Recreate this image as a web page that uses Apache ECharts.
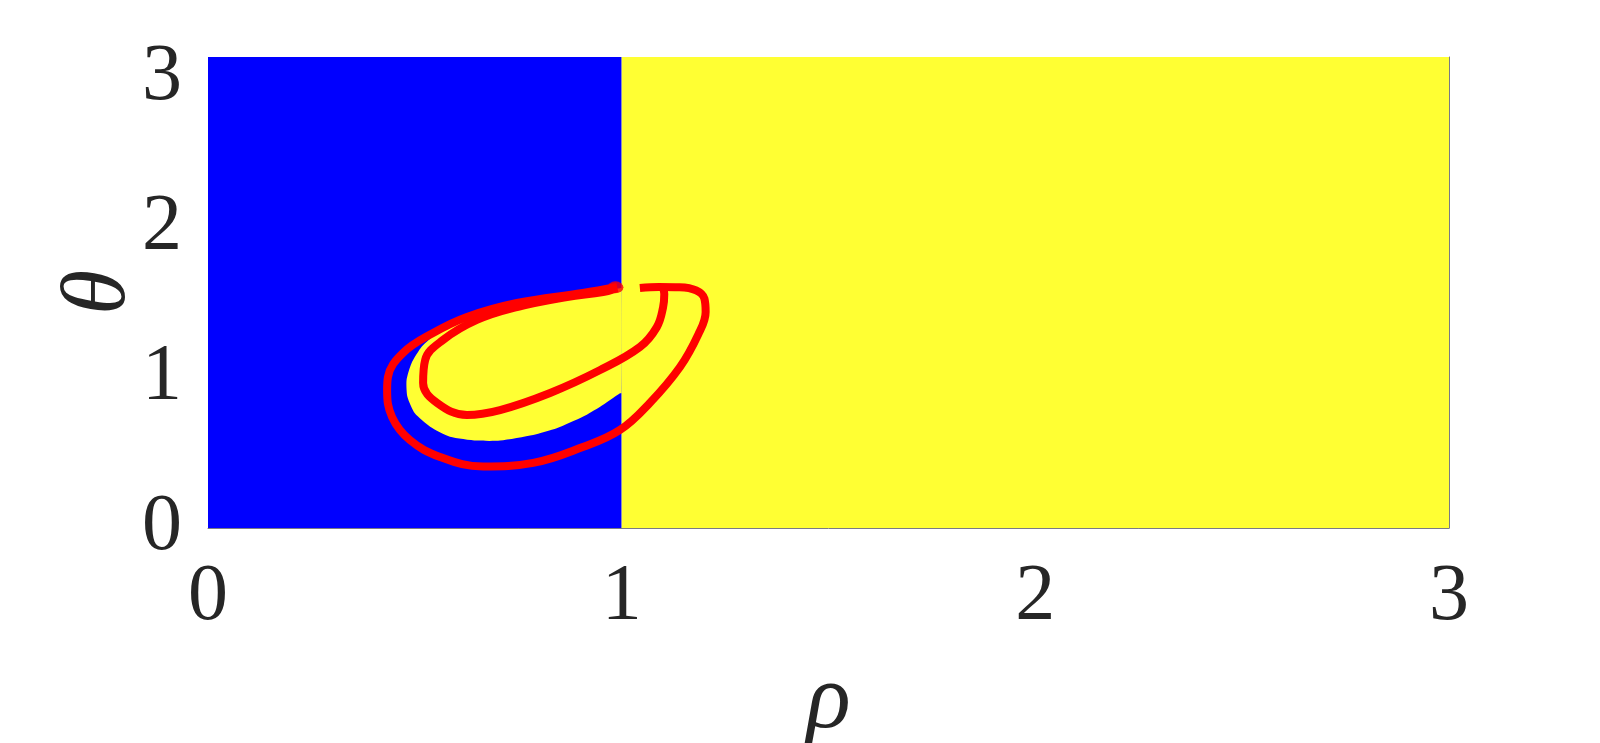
<!DOCTYPE html>
<html>
<head>
<meta charset="utf-8">
<script src="https://cdn.jsdelivr.net/npm/echarts@6/dist/echarts.min.js"></script>
<style>
  html, body { margin: 0; padding: 0; background: #fff; }
  #main { width: 1600px; height: 743px; }
</style>
</head>
<body>
<div id="main"></div>
<script>
// axis ticks
var xTicks = [0, 1, 2, 3];
var yTicks = [0, 1, 2, 3];
var THETA_MAX = Math.PI;

// background regions: [rho0, rho1, theta0, theta1]
var blueRegion = [0, 1, 0, THETA_MAX];
var yellowRegion = [1, 3, 0, THETA_MAX];

// yellow crescent inside the blue part (rho, theta)
var crescentRho = [1.0, 0.996, 0.907, 0.786, 0.682, 0.609, 0.553, 0.517, 0.492, 0.480, 0.482, 0.500, 0.537, 0.585, 0.650, 0.706, 0.786, 0.843, 0.907, 0.948, 0.996, 1.0];
var crescentTheta = [1.60, 1.599, 1.570, 1.521, 1.454, 1.388, 1.299, 1.210, 1.099, 0.987, 0.876, 0.765, 0.676, 0.609, 0.583, 0.583, 0.620, 0.665, 0.743, 0.809, 0.899, 0.90];

// red trajectories
var outerRho = [0.989, 0.906, 0.747, 0.626, 0.544, 0.471, 0.435, 0.433, 0.445, 0.488, 0.561, 0.665, 0.786, 0.906, 0.996, 1.068, 1.141, 1.185, 1.203, 1.200, 1.180, 1.140, 1.090, 1.044];
var outerTheta = [1.608, 1.568, 1.501, 1.408, 1.301, 1.167, 1.007, 0.921, 0.740, 0.587, 0.474, 0.410, 0.434, 0.540, 0.654, 0.834, 1.074, 1.290, 1.440, 1.530, 1.585, 1.606, 1.608, 1.601];
var innerRho = [1.100, 1.103, 1.100, 1.085, 1.044, 0.948, 0.827, 0.706, 0.626, 0.554, 0.520, 0.525, 0.568, 0.650, 0.747, 0.868, 0.955, 0.989];
var innerTheta = [1.601, 1.560, 1.470, 1.340, 1.207, 1.054, 0.901, 0.787, 0.754, 0.834, 0.967, 1.121, 1.254, 1.388, 1.474, 1.541, 1.574, 1.600];
var blobPoint = [0.985, 1.605];

function zip(a, b) {
  return a.map(function (v, i) { return [v, b[i]]; });
}

var chart = echarts.init(document.getElementById('main'));

function rectItem(params, api) {
  var p0 = api.coord([api.value(0), api.value(3)]);
  var p1 = api.coord([api.value(1), api.value(2)]);
  return {
    type: 'rect',
    shape: { x: p0[0], y: p0[1], width: p1[0] - p0[0], height: p1[1] - p0[1] },
    style: { fill: api.visual('color') }
  };
}

var crescentData = zip(crescentRho, crescentTheta);

var SERIF = '"Liberation Serif", "Times New Roman", serif';
var labelFont = {
  fontFamily: SERIF,
  fontSize: 80,
  color: '#262626'
};
var nameFont = {
  fontFamily: SERIF,
  fontStyle: 'italic',
  fontSize: 92,
  color: '#262626'
};

chart.setOption({
  animation: false,
  grid: { left: 208, right: 151, top: 57, bottom: 215, outerBoundsMode: 'none', containLabel: false },
  xAxis: {
    type: 'value',
    min: 0,
    max: 3,
    interval: 1,
    name: 'ρ',
    nameLocation: 'middle',
    nameGap: 129,
    nameMoveOverlap: false,
    nameTextStyle: nameFont,
    axisLine: { show: true, lineStyle: { color: '#7a7a85', width: 1 } },
    axisTick: { show: false },
    splitLine: { show: false },
    axisLabel: Object.assign({ margin: 30 }, labelFont)
  },
  yAxis: [{
    type: 'value',
    min: 0,
    max: THETA_MAX,
    interval: 1,
    name: 'θ',
    nameLocation: 'middle',
    nameRotate: 90,
    nameGap: 62,
    nameMoveOverlap: false,
    nameTextStyle: nameFont,
    axisLine: { show: false },
    axisTick: { show: false },
    splitLine: { show: false },
    axisLabel: Object.assign({
      margin: 26,
      formatter: function (v) { return yTicks.indexOf(v) >= 0 ? String(v) : ''; }
    }, labelFont)
  }, {
    type: 'value',
    position: 'right',
    min: 0,
    max: THETA_MAX,
    axisLine: { show: true, lineStyle: { color: '#7a7a85', width: 1 } },
    axisTick: { show: false },
    axisLabel: { show: false },
    splitLine: { show: false }
  }],
  series: [
    {
      type: 'custom',
      renderItem: rectItem,
      encode: { x: [0, 1], y: [2, 3] },
      itemStyle: { color: '#0000ff' },
      data: [blueRegion],
      z: 1
    },
    {
      type: 'custom',
      renderItem: rectItem,
      encode: { x: [0, 1], y: [2, 3] },
      itemStyle: { color: '#ffff33' },
      data: [yellowRegion],
      z: 1
    },
    {
      type: 'custom',
      renderItem: function (params, api) {
        if (params.dataIndex !== 0) return;
        var pts = crescentData.map(function (d) { return api.coord(d); });
        return {
          type: 'polygon',
          shape: { points: pts, smooth: 0.2 },
          style: { fill: '#ffff33' }
        };
      },
      encode: { x: 0, y: 1 },
      data: crescentData,
      z: 2
    },
    {
      type: 'line',
      data: zip(outerRho, outerTheta),
      smooth: 0.4,
      symbol: 'none',
      lineStyle: { color: '#ff0000', width: 8 },
      z: 3
    },
    {
      type: 'line',
      data: zip(innerRho, innerTheta),
      smooth: 0.4,
      symbol: 'none',
      lineStyle: { color: '#ff0000', width: 8 },
      z: 3
    },
    {
      type: 'scatter',
      data: [blobPoint],
      symbol: 'circle',
      symbolSize: [16, 12],
      itemStyle: { color: '#ff0000' },
      z: 4
    }
  ]
});
</script>
</body>
</html>
